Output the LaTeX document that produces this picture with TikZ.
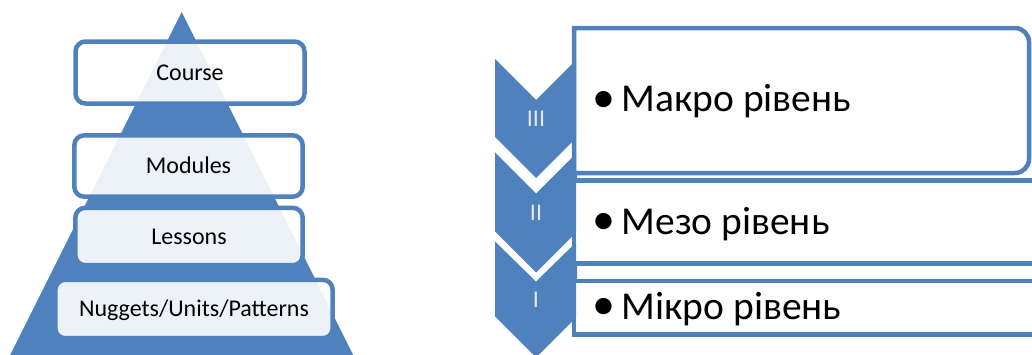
\documentclass[tikz,border=0pt]{standalone}
\usepackage{fontspec}
\setmainfont{Carlito}
\definecolor{accblue}{HTML}{4F81BD}
\definecolor{numcol}{HTML}{E1E9F4}
\begin{document}
\begin{tikzpicture}[x=1pt,y=-1pt,
  lvlbox/.style={draw=accblue, line width=4.5pt, rounded corners=10pt, fill=white,
    fill opacity=0.9, text opacity=1, inner sep=0pt, outer sep=0pt,
    font=\fontsize{24}{28}\selectfont, text height=15.4pt, text depth=0pt},
  rbox/.style={draw=accblue, line width=4.5pt, fill=white, fill opacity=0.9},
  chev/.style={fill=accblue},
  numtxt/.style={text=numcol, inner sep=0pt, font=\fontsize{24}{28}\selectfont},
  bigtxt/.style={inner sep=0pt, anchor=base west, font=\fontsize{39.5}{44}\selectfont},
  bul/.style={inner sep=0pt, anchor=base, font=\fontsize{46}{50}\selectfont}
]
\useasboundingbox (0,0) rectangle (1032,354);
\begin{scope}
\clip (0,0) rectangle (1032,354);
% pyramid
\fill[accblue] (181.7,12) -- (355.7,360) -- (7.7,360) -- cycle;
\node[lvlbox, minimum width=229pt, minimum height=62pt] (course) at (190,72.5) {Course};
\node[lvlbox, minimum width=228.4pt, minimum height=61.4pt] (modules) at (188.5,166) {Modules};
\node[lvlbox, minimum width=227.4pt, minimum height=57.4pt] (lessons) at (189,236.5) {Lessons};
\node[lvlbox, minimum width=277.4pt, minimum height=58.4pt] (nuggets) at (194,309) {Nuggets/Units/Patterns};
% chevrons
\fill[chev] (495,59) -- (536,100) -- (577,59) -- (577,137) -- (536,178) -- (495,137) -- cycle;
\fill[chev] (495,152.5) -- (536,193.5) -- (577,152.5) -- (577,231.5) -- (536,272.5) -- (495,231.5) -- cycle;
\fill[chev] (495,241.5) -- (536,281.5) -- (577,241.5) -- (577,316.5) -- (536,357.5) -- (495,316.5) -- cycle;
\node[numtxt] (n3) at (536,119) {III};
\node[numtxt] (n2) at (536,212.5) {II};
\node[numtxt] (n1) at (536,299.5) {I};
% right boxes
\draw[rbox] (574,173) -- (574,28) -- (1015,28) arc[start angle=-90, end angle=0, radius=14]
  -- (1029,159) arc[start angle=0, end angle=90, radius=14] -- cycle;
\draw[rbox] (574,180.5) rectangle (1060,263.5);
\draw[rbox] (574,281) rectangle (1060,334.5);
\node[bul] (b3) at (604,112.5) {•};
\node[bigtxt] (t3) at (621.5,111.7) {Макро рівень};
\node[bul] (b2) at (604,234.5) {•};
\node[bigtxt] (t2) at (621.5,234) {Мезо рівень};
\node[bul] (b1) at (604,319.5) {•};
\node[bigtxt] (t1) at (621.5,319) {Мікро рівень};
\end{scope}
\end{tikzpicture}
\end{document}
